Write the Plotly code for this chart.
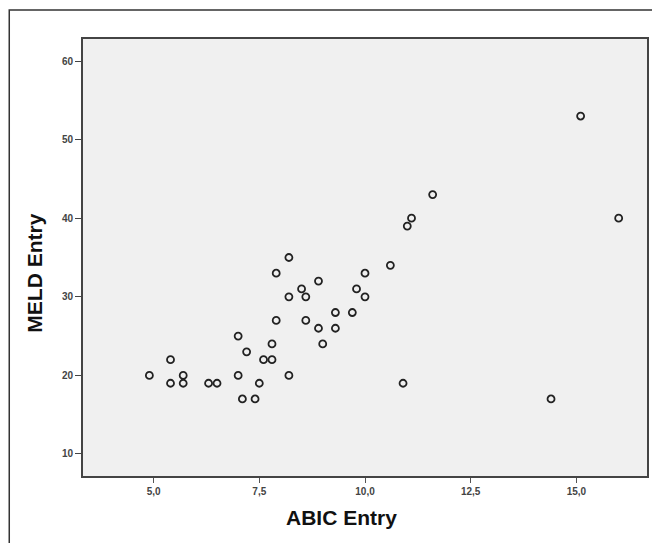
import plotly.graph_objects as go

abic_entry = [4.9, 5.4, 5.4, 5.7, 5.7, 6.3, 6.5, 7.0, 7.0, 7.1, 7.2, 7.4, 7.5, 7.6, 7.8,
              7.8, 7.9, 7.9, 8.2, 8.2, 8.2, 8.5, 8.6, 8.6, 8.9, 8.9, 9.0, 9.3, 9.3, 9.7,
              9.8, 10.0, 10.0, 10.6, 10.9, 11.0, 11.1, 11.6, 14.4, 15.1, 16.0]
meld_entry = [20, 22, 19, 20, 19, 19, 19, 25, 20, 17, 23, 17, 19, 22, 22,
              24, 27, 33, 35, 30, 20, 31, 30, 27, 32, 26, 24, 28, 26, 28,
              31, 33, 30, 34, 19, 39, 40, 43, 17, 53, 40]

x_ticks = [5.0, 7.5, 10.0, 12.5, 15.0]
y_ticks = [10, 20, 30, 40, 50, 60]

# page has an 8px body margin; compensate so the figure lands where the reference is
OFF = 8
W, H = 660 - OFF, 543 - OFF
L, R, T, B = 83 - OFF, 11, 39 - OFF, 67
pw, ph = W - L - R, H - T - B

def px(xp):  # reference-screen pixel -> paper x
    return (xp - OFF - L) / pw

def py(yp):  # reference-screen pixel -> paper y
    return (H - B - (yp - OFF)) / ph

fig = go.Figure()
fig.add_trace(go.Scatter(
    x=abic_entry, y=meld_entry, mode="markers",
    marker=dict(symbol="circle-open", size=7, color="#222222", line=dict(width=1.8, color="#222222")),
    showlegend=False, hoverinfo="x+y",
))

tickfont = dict(family="Liberation Sans, Arial, sans-serif", size=10, color="#444444", weight="bold")
fig.update_layout(
    width=W, height=H,
    margin=dict(l=L, r=R, t=T, b=B, pad=0),
    paper_bgcolor="white", plot_bgcolor="#f0f0f0",
    separators=",.",
    xaxis=dict(range=[3.33, 16.67], tickvals=x_ticks, tickformat=".1f",
               ticks="outside", ticklen=5, tickwidth=1, tickcolor="#555555",
               showgrid=False, zeroline=False, showline=True, linewidth=1.6,
               linecolor="#444444", mirror=True, tickfont=tickfont),
    yaxis=dict(range=[7.2, 62.8], tickvals=y_ticks,
               ticks="outside", ticklen=6, tickwidth=1.2, tickcolor="#444444",
               showgrid=False, zeroline=False, showline=True, linewidth=1.6,
               linecolor="#444444", mirror=True, tickfont=tickfont),
    annotations=[
        dict(text="ABIC Entry", x=px(342), y=py(517), xref="paper", yref="paper",
             xanchor="center", yanchor="middle", showarrow=False,
             font=dict(family="Liberation Sans, Arial, sans-serif", size=21, color="#111111", weight="bold")),
        dict(text="MELD Entry", x=px(33.5), y=py(273), xref="paper", yref="paper",
             xanchor="center", yanchor="middle", showarrow=False, textangle=-90,
             font=dict(family="Liberation Sans, Arial, sans-serif", size=21, color="#111111", weight="bold")),
    ],
    shapes=[
        dict(type="rect", xref="paper", yref="paper",
             x0=px(9), x1=px(680), y0=py(563), y1=py(10),
             line=dict(color="#333333", width=1.5), fillcolor="rgba(0,0,0,0)", layer="above"),
    ],
)

fig.write_html("out.html")
